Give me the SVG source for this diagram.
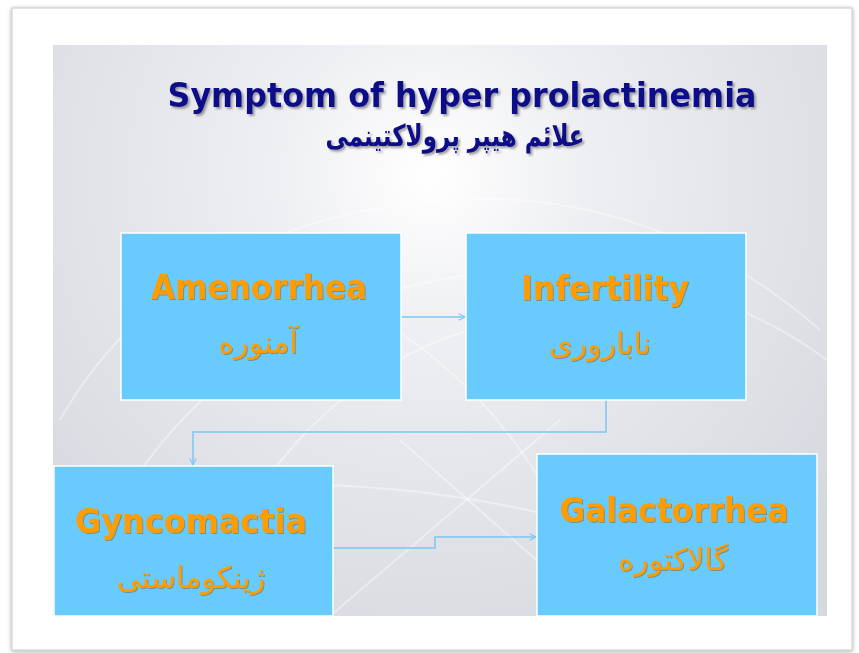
<svg xmlns="http://www.w3.org/2000/svg" width="859" height="653" viewBox="0 0 859 653">
<defs>
<radialGradient id="bg" cx="430" cy="175" r="520" gradientUnits="userSpaceOnUse">
<stop offset="0" stop-color="#ffffff"/>
<stop offset="0.3" stop-color="#eeeff2"/>
<stop offset="1" stop-color="#d6d8df"/>
</radialGradient>
<filter id="frameShadow" x="-5%" y="-5%" width="110%" height="110%">
<feDropShadow dx="0" dy="1" stdDeviation="2" flood-color="#000" flood-opacity="0.35"/>
</filter>
<filter id="titleShadow" x="-5%" y="-20%" width="110%" height="150%">
<feDropShadow dx="2" dy="2" stdDeviation="1" flood-color="#555" flood-opacity="0.55"/>
</filter>
<filter id="txtShadow" x="-5%" y="-20%" width="110%" height="150%">
<feDropShadow dx="1" dy="1" stdDeviation="0.6" flood-color="#7a5a20" flood-opacity="0.5"/>
</filter>
<marker id="arr" viewBox="0 0 10 10" refX="9" refY="5" markerWidth="8" markerHeight="8" markerUnits="userSpaceOnUse" orient="auto">
<path d="M1,1 L9,5 L1,9" fill="none" stroke="#7cc6f5" stroke-width="1.4"/>
</marker>
<clipPath id="slideClip"><rect x="53" y="45" width="774" height="571"/></clipPath>
</defs>
<style>
.box{fill:#69cbfd;stroke:#ffffff;stroke-width:1.5}
.en{font-family:"DejaVu Sans","Liberation Sans",sans-serif;font-weight:bold;font-size:33px;fill:#ff9c00;text-anchor:middle}
.fa{font-family:"DejaVu Sans","Noto Sans",sans-serif;font-size:30px;fill:#ff9c00;text-anchor:middle}
.conn{fill:none;stroke:#7cc6f5;stroke-width:1.5}
.deco{fill:none;stroke:#ffffff;stroke-opacity:0.4;stroke-width:2}
</style>
<rect x="0" y="0" width="859" height="653" fill="#ffffff"/>
<rect x="12" y="8" width="840" height="642" fill="#ffffff" stroke="#c9c9c9" stroke-width="1" filter="url(#frameShadow)"/>
<rect x="53" y="45" width="774" height="571" fill="url(#bg)"/>
<g clip-path="url(#slideClip)">
<path class="deco" d="M60,420 C150,260 330,190 520,200 C640,210 740,260 820,330"/>
<path class="deco" d="M90,560 C170,380 330,280 520,270 C650,265 760,310 827,360"/>
<path class="deco" d="M200,616 C240,470 360,360 470,330"/>
<path class="deco" d="M600,616 C560,480 480,380 380,320"/>
<path class="deco" d="M53,520 C200,470 420,470 640,540"/>
<path class="deco" d="M330,616 L560,420"/>
<path class="deco" d="M400,440 L600,616"/>
</g>
<g id="title">
<text x="462" y="107" font-family="DejaVu Sans, Liberation Sans, sans-serif" font-weight="bold" font-size="33" fill="#0b0b8a" text-anchor="middle" textLength="589" lengthAdjust="spacingAndGlyphs" filter="url(#titleShadow)">Symptom of hyper prolactinemia</text>
<text x="455" y="146" font-family="DejaVu Sans, Noto Sans, sans-serif" font-weight="bold" font-size="30" fill="#0b0b8a" text-anchor="middle" direction="rtl" textLength="259" lengthAdjust="spacingAndGlyphs" filter="url(#titleShadow)">علائم هیپر پرولاکتینمی</text>
</g>
<g id="connectors">
<path class="conn" d="M401,317 L465,317" marker-end="url(#arr)"/>
<path class="conn" d="M606,400 L606,432 L193,432 L193,465" marker-end="url(#arr)"/>
<path class="conn" d="M333,548 L435,548 L435,537 L536,537" marker-end="url(#arr)"/>
</g>
<g id="amenorrhea">
<rect class="box" x="121" y="233" width="280" height="167"/>
<text class="en" x="259" y="299" textLength="216" lengthAdjust="spacingAndGlyphs" filter="url(#txtShadow)">Amenorrhea</text>
<text class="fa" x="258" y="353" direction="rtl" filter="url(#txtShadow)">آمنوره</text>
</g>
<g id="infertility">
<rect class="box" x="466" y="233" width="280" height="167"/>
<text class="en" x="605" y="300" textLength="168" lengthAdjust="spacingAndGlyphs" filter="url(#txtShadow)">Infertility</text>
<text class="fa" x="600" y="354" direction="rtl" filter="url(#txtShadow)">ناباروری</text>
</g>
<g id="gyncomactia">
<rect class="box" x="54" y="466" width="279" height="150"/>
<text class="en" x="191" y="533" textLength="232" lengthAdjust="spacingAndGlyphs" filter="url(#txtShadow)">Gyncomactia</text>
<text class="fa" x="191" y="588" direction="rtl" filter="url(#txtShadow)">ژینکوماستی</text>
</g>
<g id="galactorrhea">
<rect class="box" x="537" y="454" width="280" height="162"/>
<text class="en" x="674" y="522" textLength="229" lengthAdjust="spacingAndGlyphs" filter="url(#txtShadow)">Galactorrhea</text>
<text class="fa" x="673" y="570" direction="rtl" filter="url(#txtShadow)">گالاکتوره</text>
</g>
</svg>
